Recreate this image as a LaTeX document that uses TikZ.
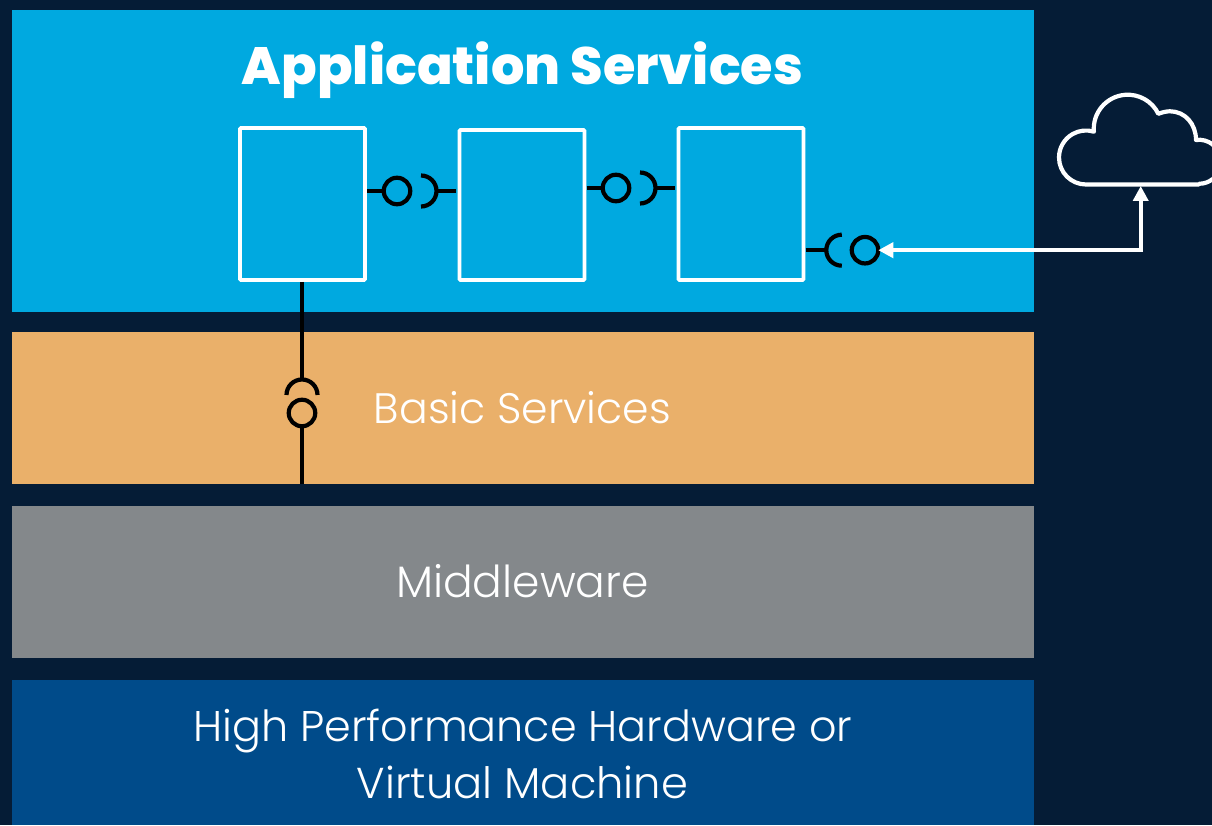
\documentclass[tikz,border=0pt]{standalone}
\usepackage{fontspec}
\setmainfont{Poppins}
\newfontfamily\lightfont{Poppins Light}
\newfontfamily\heavyfont{Poppins ExtraBold}
\usetikzlibrary{arrows.meta,calc}
\definecolor{bgc}{HTML}{051C36}
\definecolor{appc}{HTML}{00A9E0}
\definecolor{basicc}{HTML}{EAB06A}
\definecolor{midc}{HTML}{84888B}
\definecolor{hwc}{HTML}{004B8A}
\tikzset{
  band/.style={fill=#1,draw=none,inner sep=0pt,outer sep=0pt,anchor=north west},
  compbox/.style={draw=white,line width=3.8pt,rounded corners=1pt,inner sep=0pt,outer sep=0pt,anchor=north west},
  lolli/.style={circle,draw=black,line width=4.2pt,minimum size=26.5pt,inner sep=0pt,outer sep=0pt},
  wire/.style={draw=black,line width=4.2pt},
  sock/.style={draw=black,line width=4.2pt},
  link/.style={draw=white,line width=3.8pt,{Triangle[length=15pt,width=15pt]}-{Triangle[length=15pt,width=15pt]}},
  cloudline/.style={draw=white,line width=4.2pt,line join=round},
  lbl/.style={text=white,anchor=base,inner sep=0pt,font=\lightfont\fontsize{#1}{#1}\selectfont},
}
\begin{document}
\begin{tikzpicture}[x=1pt,y=1pt]
\useasboundingbox (0,0) rectangle (1212,825);
\fill[bgc] (0,0) rectangle (1212,825);
\clip (0,0) rectangle (1212,825);
% bands
\node[band=appc,minimum width=1022pt,minimum height=302pt] (app) at (12,815) {};
\node[band=basicc,minimum width=1022pt,minimum height=152pt] (basic) at (12,493) {};
\node[band=midc,minimum width=1022pt,minimum height=152pt] (mid) at (12,319) {};
\node[band=hwc,minimum width=1022pt,minimum height=145pt] (hw) at (12,145) {};
% labels
\node[text=white,anchor=base,inner sep=0pt,font=\heavyfont\fontsize{52.5}{52.5}\selectfont] (tapp) at (522.5,740) {Application Services};
\node[lbl=42.6] (tbasic) at (522.5,401) {Basic Services};
\node[lbl=44] (tmid) at (522.5,227.5) {Middleware};
\node[lbl=42.9] (thw1) at (523,84) {High Performance Hardware or};
\node[lbl=43.2] (thw2) at (522.5,27) {Virtual Machine};
% boxes
\node[compbox,minimum width=125pt,minimum height=152pt] (b1) at (240,697) {};
\node[compbox,minimum width=125pt,minimum height=150pt] (b2) at (459.5,695) {};
\node[compbox,minimum width=125pt,minimum height=152pt] (b3) at (678.5,697) {};
% lollipops
\node[lolli] (c1) at (397,634) {};
\node[lolli] (c2) at (616,637) {};
\node[lolli] (c3) at (865,574.8) {};
\node[lolli] (c4) at (302,412) {};
% socket anchors
\coordinate (s1) at (436.5,634);
\coordinate (s2) at (655.5,637);
\coordinate (s3) at (826.3,574.8);
\coordinate (s4) at (302,445.5);
\coordinate (t1) at (456,634);
\coordinate (t2) at (675,637);
\coordinate (corner) at (1140.7,574.8);
\coordinate (cloudfoot) at (1140.7,639);
\coordinate (hwfoot) at (302,341);
% wires
\draw[wire,shorten <=2pt] (b1.east |- c1) -- (c1.west);
\draw[wire] (s1) -- (t1);
\draw[wire,shorten <=2pt] (b2.east |- c2) -- (c2.west);
\draw[wire] (s2) -- (t2);
\draw[wire,shorten <=2pt] (b3.east |- c3) -- (s3);
\draw[wire,shorten <=2pt] (b1.south -| c4) -- (s4);
\draw[wire] (c4.south) -- (hwfoot);
% sockets
\draw[sock] (s1) ++(-15.5,15.5) arc[start angle=90,end angle=-90,radius=15.5];
\draw[sock] (s2) ++(-15.5,15.5) arc[start angle=90,end angle=-90,radius=15.5];
\draw[sock] (s3) ++(15.5,15.5) arc[start angle=90,end angle=270,radius=15.5];
\draw[sock] (s4) ++(-15.5,-15.5) arc[start angle=180,end angle=0,radius=15.5];
% cloud
\draw[cloudline] (1199,640.5) -- (1086,640.5)
  arc[start angle=-90,end angle=-287,radius=27]
  arc[start angle=185,end angle=26,radius=34]
  .. controls (1163,713) and (1167,713.7) .. (1170,713.7)
  .. controls (1185,713.7) and (1196,701) .. (1196,685)
  arc[start angle=98,end angle=-90,radius=22] -- cycle;
% link to the cloud
\draw[link] (c3.east) -- (corner) -- (cloudfoot);
\end{tikzpicture}
\end{document}
